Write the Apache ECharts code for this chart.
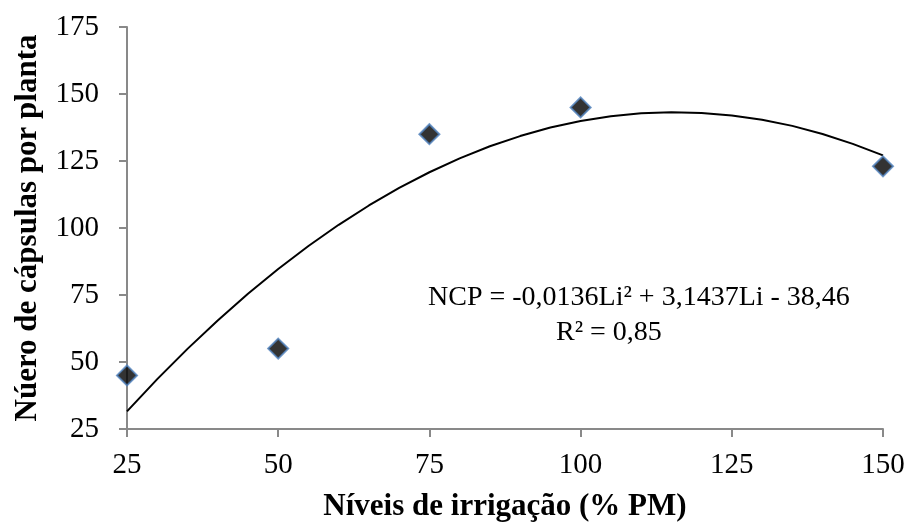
<!DOCTYPE html>
<html>
<head>
<meta charset="utf-8">
<script src="https://cdn.jsdelivr.net/npm/echarts@6/dist/echarts.min.js"></script>
<style>html,body{margin:0;padding:0;background:#fff}#c{width:908px;height:527px}</style>
</head>
<body>
<div id="c"></div>
<script>
// Observed points
var levels = [25, 50, 75, 100, 150];
var capsules = [45, 55, 135, 145, 123];
// Trend curve
var trendX = [25, 30, 35, 40, 45, 50, 55, 60, 65, 70, 75, 80, 85, 90, 95, 100, 105, 110, 115, 120, 125, 130, 135, 140, 145, 150];
var trendY = [31.6, 43.6, 54.9, 65.5, 75.5, 84.7, 93.3, 101.2, 108.4, 115.0, 120.8, 126.0, 130.5, 134.3, 137.5, 139.9, 141.7, 142.8, 143.2, 142.9, 142.0, 140.4, 138.1, 135.1, 131.4, 127.1];
var xTicks = [25, 50, 75, 100, 125, 150];
var yTicks = [25, 50, 75, 100, 125, 150, 175];
var equationText = 'NCP = -0,0136Li² + 3,1437Li - 38,46';
var r2Text = 'R² = 0,85';

var chart = echarts.init(document.getElementById('c'), null, {renderer: 'canvas'});
var font = 'Liberation Serif';
var axisColor = '#898989';
chart.setOption({
  animation: false,
  backgroundColor: '#fff',
  grid: {left: 127, right: 25, top: 27, bottom: 98, containLabel: false},
  xAxis: {
    type: 'value', min: xTicks[0], max: xTicks[xTicks.length - 1], interval: 25,
    name: 'Níveis de irrigação (% PM)', nameLocation: 'middle', nameGap: 62,
    nameTextStyle: {fontFamily: font, fontWeight: 'bold', fontSize: 31, color: '#000'},
    axisLine: {lineStyle: {color: axisColor, width: 2}},
    axisTick: {show: true, length: 8, lineStyle: {color: axisColor, width: 2}},
    axisLabel: {fontFamily: font, fontSize: 29, color: '#000', margin: 22},
    splitLine: {show: false}
  },
  yAxis: {
    type: 'value', min: yTicks[0], max: yTicks[yTicks.length - 1], interval: 25,
    name: 'Núero de cápsulas por planta', nameLocation: 'middle', nameGap: 84,
    nameTextStyle: {fontFamily: font, fontWeight: 'bold', fontSize: 31, color: '#000'},
    axisLine: {show: true, lineStyle: {color: axisColor, width: 2}},
    axisTick: {show: true, length: 8, lineStyle: {color: axisColor, width: 2}},
    axisLabel: {fontFamily: font, fontSize: 29, color: '#000', margin: 28},
    splitLine: {show: false}
  },
  series: [
    {
      type: 'line', smooth: false, symbol: 'none',
      data: trendX.map(function (x, i) { return [x, trendY[i]]; }),
      lineStyle: {color: '#000', width: 2}, z: 2
    },
    {
      type: 'scatter', symbol: 'diamond', symbolSize: 20,
      data: levels.map(function (x, i) { return [x, capsules[i]]; }),
      itemStyle: {color: '#000', borderColor: '#4f81bd', borderWidth: 2}, z: 3
    }
  ],
  graphic: [
    {type: 'text', left: 428, top: 284, style: {text: equationText, font: '28px "Liberation Serif"', fill: '#000'}},
    {type: 'text', left: 556, top: 319, style: {text: r2Text, font: '28px "Liberation Serif"', fill: '#000'}}
  ]
});
</script>
</body>
</html>
